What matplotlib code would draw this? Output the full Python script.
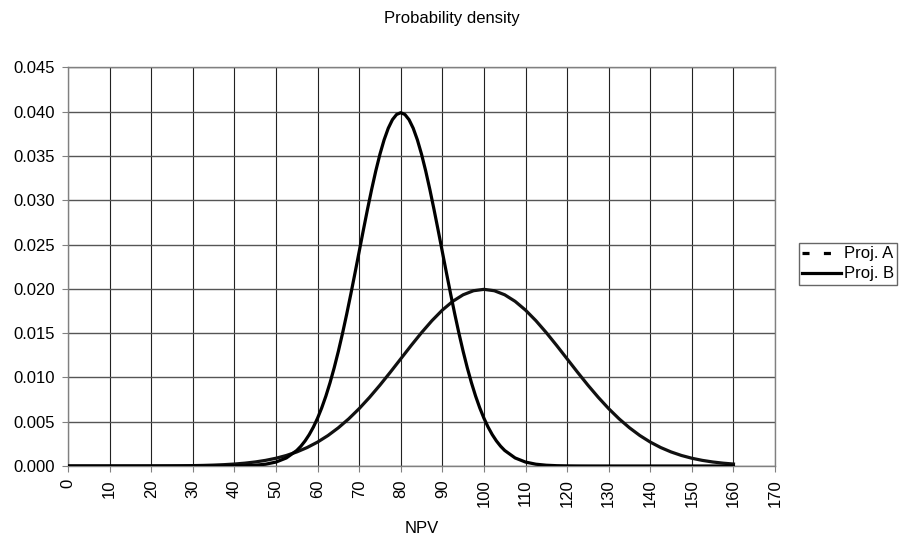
import matplotlib
matplotlib.use('Agg')
import matplotlib.pyplot as plt
from matplotlib.lines import Line2D

plt.rcParams['font.family'] = ['Liberation Sans', 'DejaVu Sans']

# Proj. A (wide curve), NPV step 2.5 from 0 to 160
npv_a = [i * 2.5 for i in range(65)]
proj_a = [
    0.0000001, 0.0000001, 0.0000003, 0.0000005, 0.0000008, 0.0000014, 0.0000024, 0.0000040,
    0.0000067, 0.0000109, 0.0000176, 0.0000279, 0.0000436, 0.0000670, 0.0001015, 0.0001510,
    0.0002216, 0.0003200, 0.0004550, 0.0006360, 0.0008760, 0.0011880, 0.0015870, 0.0020860,
    0.0027000, 0.0034390, 0.0043150, 0.0053280, 0.0064760, 0.0077520, 0.0091320, 0.0105940,
    0.0120990, 0.0136040, 0.0150570, 0.0164080, 0.0176030, 0.0185930, 0.0193330, 0.0197920,
    0.0199470, 0.0197920, 0.0193330, 0.0185930, 0.0176030, 0.0164080, 0.0150570, 0.0136040,
    0.0120990, 0.0105940, 0.0091320, 0.0077520, 0.0064760, 0.0053280, 0.0043150, 0.0034390,
    0.0027000, 0.0020860, 0.0015870, 0.0011880, 0.0008760, 0.0006360, 0.0004550, 0.0003200,
    0.0002220,
]

# Proj. B (narrow curve), finer steps around the peak
npv_b = [i * 2.5 for i in range(23)] + list(range(56, 105)) + [105 + i * 2.5 for i in range(23)]
proj_b = [
    # 0 .. 55
    0.0, 0.0, 0.0, 0.0, 0.0, 0.0, 0.0, 0.0, 0.0, 0.0, 0.0, 0.0,
    0.0000001, 0.0000005, 0.0000016, 0.0000048, 0.0000134, 0.0000353, 0.0000873, 0.000203,
    0.000443, 0.000909, 0.001753,
    # 56 .. 104
    0.002239, 0.002833, 0.003547, 0.004398, 0.005399, 0.006562, 0.007895, 0.009405,
    0.011092, 0.012952, 0.014973, 0.017137, 0.019419, 0.021785, 0.024197, 0.026609,
    0.028969, 0.031225, 0.033322, 0.035207, 0.036827, 0.038139, 0.039104, 0.039695,
    0.039894,
    0.039695, 0.039104, 0.038139, 0.036827, 0.035207, 0.033322, 0.031225, 0.028969,
    0.026609, 0.024197, 0.021785, 0.019419, 0.017137, 0.014973, 0.012952, 0.011092,
    0.009405, 0.007895, 0.006562, 0.005399, 0.004398, 0.003547, 0.002833, 0.002239,
    # 105 .. 160
    0.001753, 0.000909, 0.000443, 0.000203, 0.0000873, 0.0000353, 0.0000134, 0.0000048,
    0.0000016, 0.0000005, 0.0000001,
    0.0, 0.0, 0.0, 0.0, 0.0, 0.0, 0.0, 0.0, 0.0, 0.0, 0.0, 0.0,
]

x_ticks = list(range(0, 171, 10))
y_ticks = [i * 0.005 for i in range(10)]

fig = plt.figure(figsize=(9.01, 5.36), dpi=100)
ax = fig.add_axes([0.0755, 0.1306, 0.7847, 0.7435])

for x in x_ticks:
    ax.axvline(x, color='#222222', lw=0.8, zorder=1)
for y in y_ticks:
    ax.axhline(y, color='#555555', lw=1.0, zorder=1)

ax.plot(npv_a, proj_a, color='#111111', lw=2.3, zorder=3)
ax.plot(npv_b, proj_b, color='#000000', lw=2.3, zorder=3)

ax.set_xlim(0, 170)
ax.set_ylim(0, 0.045)
ax.set_xticks(x_ticks)
ax.set_xticklabels([str(x) for x in x_ticks], rotation=90, fontsize=12)
ax.set_yticks(y_ticks)
ax.set_yticklabels(['%.3f' % y for y in y_ticks], fontsize=12)
ax.tick_params(direction='out', length=4.5, width=0.8, color='#808080')
ax.tick_params(axis='x', pad=5)
ax.tick_params(axis='y', pad=5)
for s in ax.spines.values():
    s.set_color('#808080')
    s.set_linewidth(1.0)

ax.set_xlabel('NPV', fontsize=12, labelpad=10)
fig.text(0.5017, 0.9664, 'Probability density', ha='center', va='center', fontsize=12)

handles = [
    Line2D([], [], color='black', lw=2.3, linestyle=(0, (2.2, 4.5))),
    Line2D([], [], color='black', lw=2.3),
]
fig.legend(handles, ['Proj. A', 'Proj. B'], loc='upper left',
           bbox_to_anchor=(0.8868, 0.5466), fontsize=12, frameon=True,
           fancybox=False, edgecolor='#404040', handlelength=2.3,
           handletextpad=0.2, borderpad=0.2, labelspacing=0.3,
           borderaxespad=0)

plt.savefig('out.png', dpi=100)
